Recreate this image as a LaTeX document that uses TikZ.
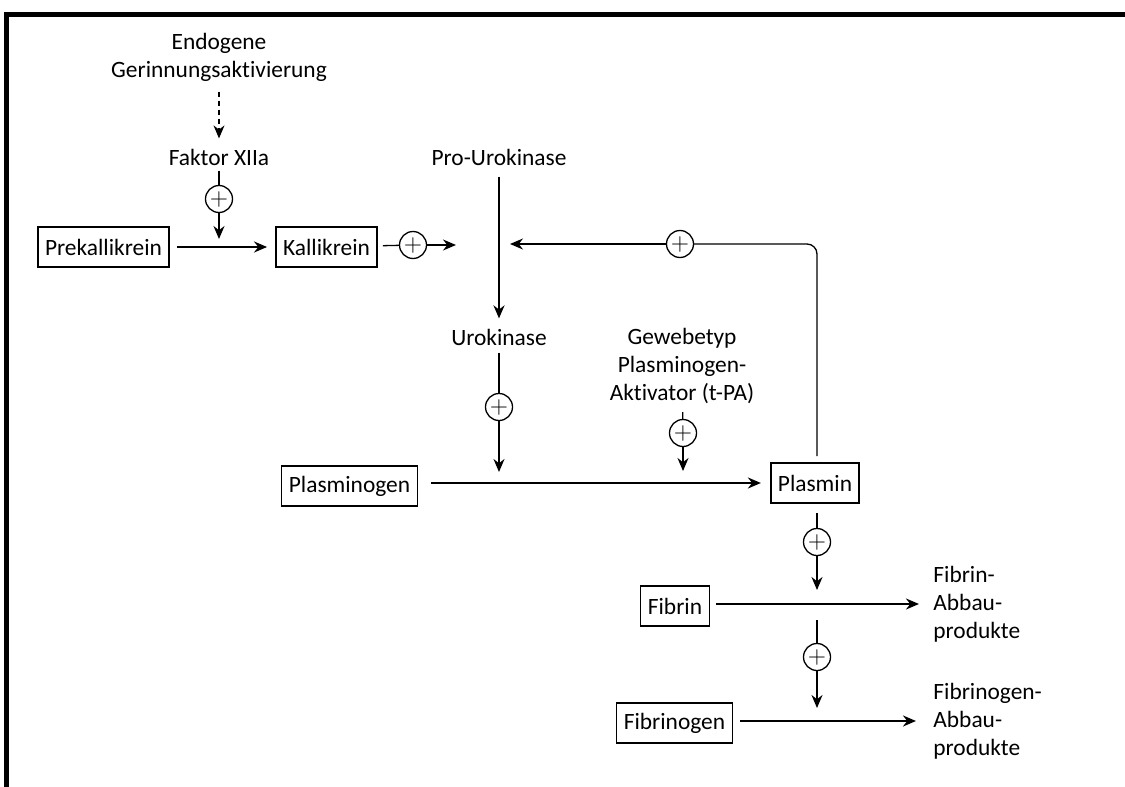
\documentclass[tikz,border=0pt]{standalone}
\usepackage{fontspec}
\setmainfont[Ligatures={NoCommon,NoContextual}]{Carlito}
\usetikzlibrary{arrows.meta,calc,positioning}
\tikzset{
	fibrinolyse/.style={
		x=0.5pt, y=-0.5pt,
		font=\fontsize{11.7}{14}\selectfont,
		ar/.style={-{Stealth[length=6.5pt,width=5.5pt]}},
		wire/.style={line width=0.65pt},
		strong/.style={line width=1.1pt},
		},
	enzyme/.style={draw,line width=0.8pt,minimum height=20pt,inner xsep=3.6pt,inner ysep=2pt},
	activ/.style={circle,draw,line width=0.65pt,minimum size=13.5pt,inner sep=0pt},
	txt/.style={align=center,inner sep=1pt},
	gap/.style 2 args={shorten <=#1,shorten >=#2}
}

\begin{document}
\begin{tikzpicture}[fibrinolyse]
	\useasboundingbox (0,0) rectangle (1125,787);
	\draw[line width=2.5pt] (6.5,787) -- (6.5,14.5) -- (1125,14.5);
	% Kontaktaktivierung
	\node[txt] (endo) at (219,57) {Endogene\\Gerinnungsaktivierung};
	\node[txt] (f12) at (219,157) {Faktor XIIa};
	\node[activ] (p1) at (219,199) {$+$};
	\node[enzyme] (prekal) at (103.5,247) {Prekallikrein};
	\node[enzyme] (kal) at (326.5,247) {Kallikrein};
	\node[activ] (p2) at (413,245) {$+$};
	\coordinate (m1) at (219,239);
	\coordinate (k1) at (456,245);
	\draw[wire,ar,dashed,dash pattern=on 2.5pt off 2pt,gap={4pt}{4pt}] (endo) -- (f12);
	\draw[wire,gap={1.5pt}{0pt}] (f12) -- (p1);
	\draw[wire,ar] (p1) -- (m1);
	\draw[strong,ar,gap={3.5pt}{4pt}] (prekal) -- (kal);
	\draw[wire,gap={2.5pt}{0pt}] (kal) -- (p2);
	\draw[wire,ar] (p2) -- (k1);
	% Urokinase
	\node[txt] (prouk) at (499,157) {Pro-Urokinase};
	\node[txt] (uk) at (499,337) {Urokinase};
	\node[activ] (p5) at (499,407) {$+$};
	\coordinate (m2) at (499,472);
	\draw[strong,ar,gap={4.5pt}{4pt}] (prouk) -- (uk);
	\draw[wire,gap={2.5pt}{0pt}] (uk) -- (p5);
	\draw[wire,ar] (p5) -- (m2);
	% t-PA
	\node[txt] (tpa) at (682,366) {Gewebetyp\\Plasminogen-\\Aktivator (t-PA)};
	\node[activ] (p4) at (683,433) {$+$};
	\coordinate (m3) at (683,471);
	\draw[wire,gap={3pt}{0pt}] (tpa) -- (p4);
	\draw[wire,ar] (p4) -- (m3);
	% Plasmin
	\node[enzyme] (plg) at (349.5,486) {Plasminogen};
	\node[enzyme] (pl) at (815,483) {Plasmin};
	\draw[strong,ar,gap={6.5pt}{4.5pt}] (plg.east |- pl) -- (pl);
	\node[activ] (p3) at (680,244) {$+$};
	\coordinate (k2) at (510,244);
	\draw[wire,rounded corners=5pt,gap={3pt}{0pt}] ([xshift=1pt]pl.north) |- (p3);
	\draw[wire,ar] (p3) -- (k2);
	% Fibrinolyse
	\node[activ] (p6) at (817,542) {$+$};
	\node[enzyme] (fib) at (675,606) {Fibrin};
	\node[txt,align=left,anchor=west] (fdp) at (931,604) {Fibrin-\\Abbau-\\produkte};
	\coordinate (m4) at (817,590);
	\draw[wire,gap={4.5pt}{0pt}] ([xshift=1pt]pl.south) -- (p6);
	\draw[wire,ar] (p6) -- (m4);
	\draw[strong,ar,gap={3pt}{6pt}] (fib.east |- fdp) -- (fdp);
	% Fibrinogenolyse
	\node[activ] (p7) at (817,657) {$+$};
	\node[enzyme] (fbg) at (674.5,723) {Fibrinogen};
	\node[txt,align=left,anchor=west] (fgdp) at (931,721) {Fibrinogen-\\Abbau-\\produkte};
	\coordinate (c7) at (817,620);
	\coordinate (m5) at (817,708);
	\draw[wire] (c7) -- (p7);
	\draw[wire,ar] (p7) -- (m5);
	\draw[strong,ar,gap={3.5pt}{7.5pt}] (fbg.east |- fgdp) -- (fgdp);
\end{tikzpicture}
\end{document}
